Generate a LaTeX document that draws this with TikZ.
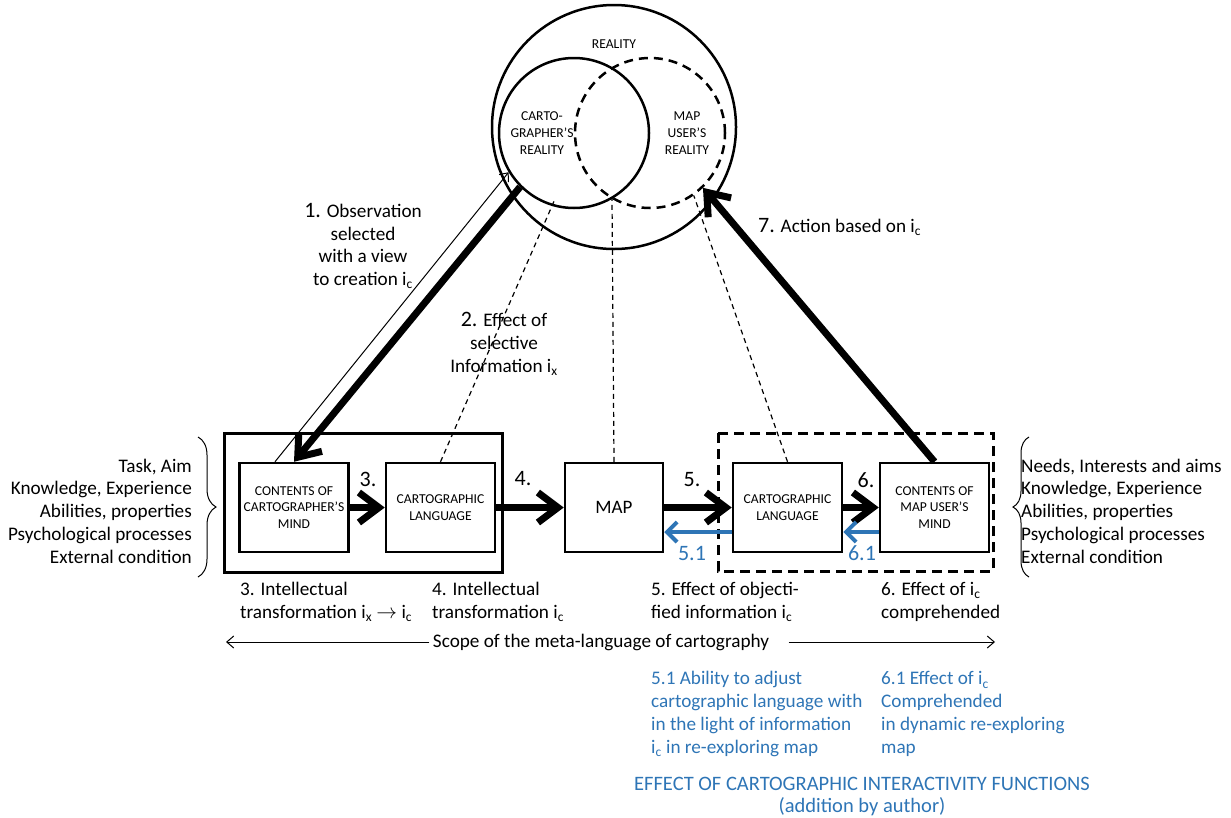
\documentclass[tikz,border=0pt]{standalone}
\usepackage{fontspec}
\setmainfont{Carlito}
\usetikzlibrary{arrows.meta,decorations.pathreplacing}
\definecolor{ablue}{RGB}{46,117,182}
\newcommand{\fsz}[2]{\fontsize{#1}{#2}\selectfont}
\newcommand{\bignum}[1]{{\fsz{22}{23}#1}}
\begin{document}
\begin{tikzpicture}
  [x=1pt,y=-1pt,
  every node/.style={font=\fsz{19.2}{22.8}},
  txt/.style={inner sep=0pt,align=left},
  small/.style={font=\fsz{13.6}{16.7},align=center,inner sep=0pt},
  num/.style={font=\fsz{22}{23},inner sep=0pt},
  box/.style={draw,line width=2.5pt,minimum width=109pt,minimum height=89pt,align=center,font=\fsz{13.6}{16.7}},
  ring/.style={circle,draw,line width=2.5pt,inner sep=0pt},
  big/.style={line width=7pt,-{Straight Barb[length=20pt,width=30pt]}},
  iact/.style={ablue,line width=4pt,-{Straight Barb[length=10pt,width=20pt]}},
  fine/.style={line width=1pt,-{Straight Barb[length=7pt,width=12pt]}},
  dline/.style={line width=1.2pt,dash pattern=on 5pt off 4pt},
  frame/.style={line width=3pt}]
  \useasboundingbox (0,0) rectangle (1231,817);
  \node[ring,minimum size=244pt] (REAL) at (614,127) {};
  \node[ring,minimum size=150pt] (CR) at (574,133) {};
  \node[ring,minimum size=150pt,dash pattern=on 9pt off 6pt] (UR) at (650,133) {};
  \node[small] at (614,44) {REALITY};
  \node[small] at (542,133) {CARTO-\\GRAPHER’S\\REALITY};
  \node[small] at (687,133) {MAP\\USER’S\\REALITY};

  \draw[frame] (224,433) rectangle (502,572);
  \draw[frame,dash pattern=on 10pt off 6pt] (718,433) rectangle (993,571);
  \node[box] (CM) at (294,507.5) {CONTENTS OF\\CARTOGRAPHER’S\\MIND};
  \node[box] (CL) at (440.5,507.5) {CARTOGRAPHIC\\LANGUAGE};
  \node[box,minimum width=98pt,font=\fsz{19}{23}] (MAP) at (614,507.5) {MAP};
  \node[box] (UL) at (787.5,507.5) {CARTOGRAPHIC\\LANGUAGE};
  \node[box] (UM) at (934.5,507.5) {CONTENTS OF\\MAP USER’S\\MIND};

  \draw[big] (CM) -- (CL);
  \draw[big] (CL) -- (MAP);
  \draw[big] (MAP) -- (UL);
  \draw[big] (UL) -- (UM);
  \draw[iact] ([yshift=-24.5pt]UL.west) -- ([yshift=-24.5pt]MAP.east);
  \draw[iact] ([yshift=-24.5pt]UM.west) -- ([yshift=-24.5pt]UL.east);
  \node[num] at (368,479) {3.};
  \node[num] at (523,479) {4.};
  \node[num] at (692,480) {5.};
  \node[num] at (866,480) {6.};
  \node[num,ablue] at (692,553) {5.1};
  \node[num,ablue] at (862,553) {6.1};

  \coordinate (s2) at (555,199);
  \coordinate (cut) at (612,198);
  \draw[fine] ([xshift=-19pt]CM.north) -- (CR.211);
  \draw[big] (CR.225) -- (CM.north);
  \draw[big] (UM.north) -- (UR.314);
  \draw[dline] (CL.north) -- (s2);
  \draw[dline] (MAP.north) -- (cut);
  \draw[dline] (UL.north) -- (UR.305);
  \node[align=center,inner sep=0pt] at (363,246) {\bignum{1.} Observation\\selected\\with a view\\to creation i\textsubscript{c}};
  \node[align=center,inner sep=0pt] at (504,344) {\bignum{2.} Effect of\\selective\\Information i\textsubscript{x}};
  \node[txt,anchor=west] at (758,227) {\bignum{7.} Action based on i\textsubscript{c}};

  \node[txt,align=right,anchor=east] at (192,511) {Task, Aim\\Knowledge, Experience\\Abilities, properties\\Psychological processes\\External condition};
  \node[txt,anchor=west] at (1021,511) {Needs, Interests and aims\\Knowledge, Experience\\Abilities, properties\\Psychological processes\\External condition};
  \draw[decorate,decoration={brace,amplitude=18pt},line width=1pt] (198,437) -- (198,577);
  \draw[decorate,decoration={brace,amplitude=16pt},line width=1pt] (1029,577) -- (1029,437);

  \node[txt,anchor=west] at (240,602) {3. Intellectual\\transformation i\textsubscript{x} $\rightarrow$ i\textsubscript{c}};
  \node[txt,anchor=west] at (432,602) {4. Intellectual\\transformation i\textsubscript{c}};
  \node[txt,anchor=west] at (651,602) {5. Effect of objecti-\\fied information i\textsubscript{c}};
  \node[txt,anchor=west] at (881,602) {6. Effect of i\textsubscript{c}\\comprehended};

  \node (SC) at (601,642) {Scope of the meta-language of cartography};
  \coordinate (sl) at (226,642);
  \coordinate (sr) at (995,642);
  \draw[fine] (SC.west) -- (sl);
  \draw[fine,shorten <=16pt] (SC.east) -- (sr);

  \node[txt,ablue,anchor=west] at (651,714) {5.1 Ability to adjust\\cartographic language with\\in the light of information\\i\textsubscript{c} in re-exploring map};
  \node[txt,ablue,anchor=west] at (881,714) {6.1 Effect of i\textsubscript{c}\\Comprehended\\in dynamic re-exploring\\map};
  \node[align=center,inner sep=0pt,ablue,font=\fsz{20.5}{22}] at (862,796) {EFFECT OF CARTOGRAPHIC INTERACTIVITY FUNCTIONS\\(addition by author)};
\end{tikzpicture}
\end{document}
